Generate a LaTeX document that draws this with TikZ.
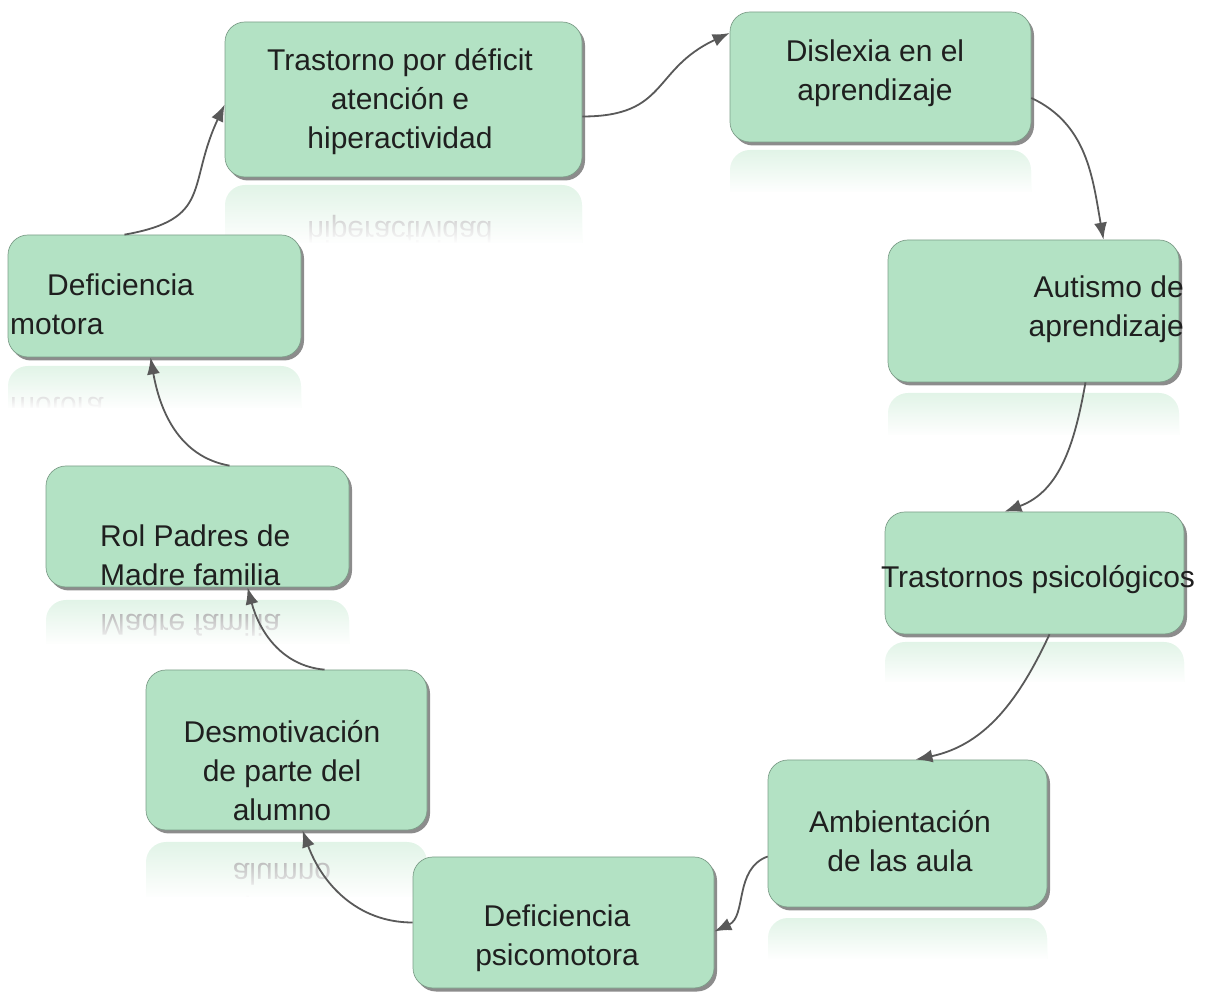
\documentclass[tikz,border=0pt]{standalone}
\usepackage{fontspec}
\setmainfont{Liberation Sans}
\usetikzlibrary{arrows.meta,shadows,fadings}
\definecolor{verdecaja}{RGB}{179,226,196}
\definecolor{flecha}{RGB}{89,89,89}
\tikzfading[name=desvanece, top color=transparent!100, bottom color=transparent!0]
% reflejo bajo cada caja: izq, der, espejo, alto, x texto, y texto, opciones, texto
\newcommand{\reflejo}[8]{%
  \begin{scope}
    \clip (#1,#3-#4) rectangle (#2,#3);
    \fill[verdecaja!40!white, rounded corners=20pt] (#1,#3-#4-40) rectangle (#2,#3);
    \begin{scope}[shift={(0,#3)}, yscale=-1]
      \node[lbl, transform shape, text=black!40, #7] at (#5,#6-#3) {#8};
    \end{scope}
    \fill[white, path fading=desvanece] (#1-2,#3-#4-1) rectangle (#2+2,#3+1);
  \end{scope}}

\begin{document}
\begin{tikzpicture}[x=1pt, y=1pt,
  caja/.style={rectangle, rounded corners=20pt, fill=verdecaja, draw=verdecaja!70!black,
    line width=0.7pt, inner sep=0pt,
    drop shadow={shadow xshift=3pt, shadow yshift=-3.5pt, opacity=0.6, fill=black!75}},
  lbl/.style={font=\fontsize{30}{39}\selectfont, text=black!88, inner sep=0pt, align=center},
  flechita/.style={draw=flecha, line width=1.8pt, -{Latex[length=17pt,width=13pt]}}]
\useasboundingbox (0,0) rectangle (1205,991);

% reflejos
\reflejo{225}{582}{806}{58}{400}{889}{}{Trastorno por déficit\\atención e\\hiperactividad}
\reflejo{730}{1031}{841}{42}{875}{917.5}{}{Dislexia en el\\aprendizaje}
\reflejo{888}{1179}{598}{42}{1184}{681.5}{}{}
\reflejo{885}{1184}{349}{40}{1038}{411}{}{Trastornos psicológicos}
\reflejo{768}{1047}{73}{40}{900}{150}{}{}
\reflejo{146}{427}{149}{55}{282}{220}{}{Desmotivación\\de parte del\\alumno}
\reflejo{46}{349}{391}{44}{100}{435.5}{anchor=west, align=left}{Rol Padres de\\Madre familia}
\reflejo{8}{301}{625}{42}{10}{687}{anchor=west, align=left}{\hspace*{37pt}Deficiencia\\motora}

% cajas
\node[caja, minimum width=357pt, minimum height=155pt] (tdah) at (403.5,891.5) {};
\node[caja, minimum width=301pt, minimum height=130pt] (dislexia) at (880.5,914) {};
\node[caja, minimum width=291pt, minimum height=142pt] (autismo) at (1033.5,680) {};
\node[caja, minimum width=299pt, minimum height=122pt] (psico) at (1034.5,418) {};
\node[caja, minimum width=279pt, minimum height=147pt] (ambiente) at (907.5,157.5) {};
\node[caja, minimum width=301pt, minimum height=131pt] (psicomot) at (563.5,68.5) {};
\node[caja, minimum width=281pt, minimum height=160pt] (desmot) at (286.5,241) {};
\node[caja, minimum width=303pt, minimum height=121pt] (padres) at (197.5,464.5) {};
\node[caja, minimum width=293pt, minimum height=122pt] (motora) at (154.5,695) {};

% textos
\node[lbl] (tdah-t) at (400,889) {Trastorno por déficit\\atención e\\hiperactividad};
\node[lbl] (dislexia-t) at (875,917.5) {Dislexia en el\\aprendizaje};
\node[lbl, anchor=east, align=right] (autismo-t) at (1184,681.5) {Autismo de\\aprendizaje};
\node[lbl] (psico-t) at (1038,411) {Trastornos psicológicos};
\node[lbl] (ambiente-t) at (900,150) {Ambientación\\de las aula};
\node[lbl] (psicomot-t) at (557,53) {Deficiencia\\psicomotora};
\node[lbl] (desmot-t) at (282,220) {Desmotivación\\de parte del\\alumno};
\node[lbl, anchor=west, align=left] (padres-t) at (100,435.5) {Rol Padres de\\Madre familia};
\node[lbl, anchor=west, align=left] (motora-t) at (10,687) {\hspace*{37pt}Deficiencia\\motora};

% flechas del ciclo
\draw[flechita] ([yshift=-17pt]tdah.east) to[out=0, in=205, looseness=1.3] ([yshift=44pt]dislexia.west);
\draw[flechita] ([yshift=-21pt]dislexia.east) to[out=-25, in=100] ([xshift=70pt]autismo.north);
\draw[flechita] ([xshift=52pt]autismo.south) to[out=-100, in=20] ([xshift=-30pt]psico.north);
\draw[flechita] ([xshift=15pt]psico.south) to[out=-115, in=12] ([xshift=8pt]ambiente.north);
\draw[flechita] ([yshift=-23pt]ambiente.west) to[out=200, in=25] ([yshift=-9pt]psicomot.east);
\draw[flechita] (psicomot.west) to[out=180, in=-70] ([xshift=16pt]desmot.south);
\draw[flechita] ([xshift=38pt]desmot.north) to[out=175, in=-75] ([xshift=50pt]padres.south);
\draw[flechita] ([xshift=32pt]padres.north) to[out=170, in=-80] ([xshift=-4pt]motora.south);
\draw[flechita] ([xshift=-30pt]motora.north) to[out=10, in=245, looseness=1.4] ([yshift=-5pt]tdah.west);
\end{tikzpicture}
\end{document}
